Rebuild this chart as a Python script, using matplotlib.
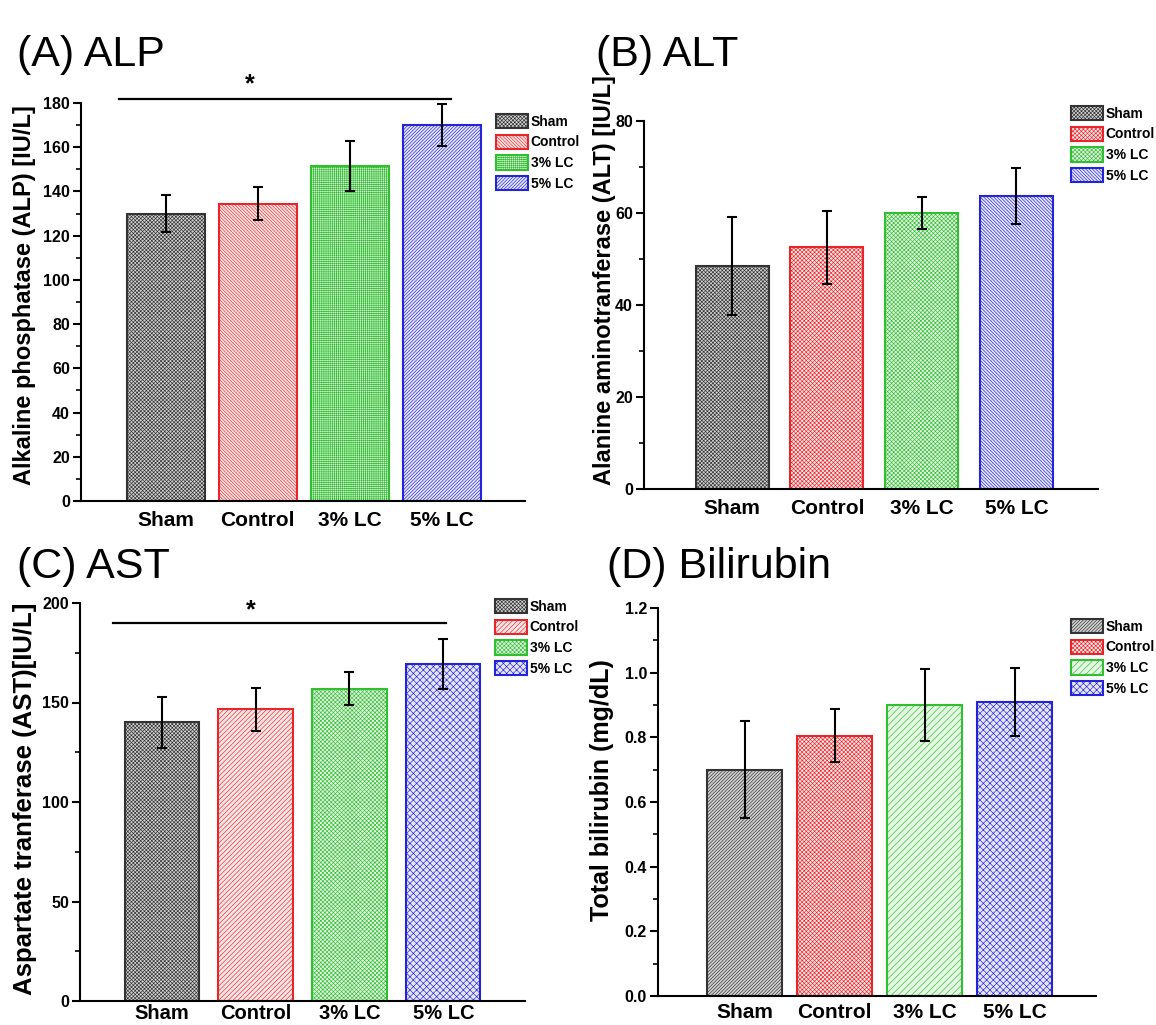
import numpy as np
import matplotlib
matplotlib.use("Agg")
import matplotlib.pyplot as plt
from matplotlib.ticker import MultipleLocator

plt.rcParams['font.family'] = ['Liberation Sans', 'DejaVu Sans']
plt.rcParams['hatch.linewidth'] = 0.45

groups = ["Sham", "Control", "3% LC", "5% LC"]
colors = ["#333333", "#e8262a", "#2fbf2f", "#2323d8"]
tints = ["#cfcfcf", "#fde6e6", "#e4f8e4", "#e4e4fa"]

# (A) ALP
alp_mean = [130, 134.5, 151.5, 170]
alp_err = [8.5, 7.5, 11.5, 9.5]
# (B) ALT
alt_mean = [48.5, 52.5, 60, 63.7]
alt_err = [10.7, 8, 3.5, 6]
# (C) AST
ast_mean = [140, 146.5, 157, 169.5]
ast_err = [13, 11, 8.5, 12.5]
# (D) Bilirubin
bil_mean = [0.70, 0.805, 0.90, 0.91]
bil_err = [0.15, 0.082, 0.11, 0.105]

W, H = 1156, 1025
fig = plt.figure(figsize=(W / 100, H / 100), dpi=100)


def px_axes(l, t, r, b):
    return fig.add_axes([l / W, 1 - b / H, (r - l) / W, (b - t) / H])


def panel(ax, means, errs, hatches, width, xlim, ylim, major, minor, fmt,
          ylabel, ysize, label_right, label_y, leg_xy, xpad=7, xsize=15):
    x = np.arange(len(groups))
    for i in range(len(groups)):
        ax.bar(x[i], means[i], width=width, facecolor=tints[i], edgecolor=colors[i],
               hatch=hatches[i], linewidth=1.5, label=groups[i], zorder=2)
    ax.errorbar(x, means, yerr=errs, fmt="none", ecolor="black", elinewidth=1.5,
                capsize=3.5, capthick=1.5, zorder=3)
    ax.set_xlim(*xlim)
    ax.set_ylim(*ylim)
    ax.yaxis.set_major_locator(MultipleLocator(major))
    ax.yaxis.set_minor_locator(MultipleLocator(minor))
    ax.yaxis.set_major_formatter(fmt)
    ax.set_xticks(x)
    ax.set_xticklabels(groups, fontsize=xsize, fontweight="bold")
    ax.tick_params(axis="x", length=0, pad=xpad)
    ax.tick_params(axis="y", which="major", length=6, width=1.5, labelsize=11.5, pad=2)
    ax.tick_params(axis="y", which="minor", length=3.5, width=1.2)
    for lab in ax.get_yticklabels():
        lab.set_fontweight("bold")
    for s in ["top", "right"]:
        ax.spines[s].set_visible(False)
    for s in ["left", "bottom"]:
        ax.spines[s].set_linewidth(1.5)
    ax.set_ylabel(ylabel, fontsize=ysize, fontweight="bold")
    # right edge of the rotated label, given in figure pixels
    bb = ax.get_position()
    ax.yaxis.set_label_coords((label_right / W - bb.x0) / bb.width, label_y)
    ax.legend(loc="upper left", bbox_to_anchor=(leg_xy[0] / W, 1 - leg_xy[1] / H),
              bbox_transform=fig.transFigure, frameon=False, borderpad=0,
              borderaxespad=0, handlelength=2.3, handleheight=1.2,
              handletextpad=0.2, labelspacing=0.42,
              prop={"weight": "bold", "size": 10})


axA = px_axes(81, 103, 525, 501)
panel(axA, alp_mean, alp_err, ["x" * 9, "\\" * 10, "+" * 8, "/" * 10],
      0.85, (-0.92, 3.9), (0, 180), 20, 10, "{x:.0f}",
      "Alkaline phosphatase (ALP) [IU/L]", 17, 36, 0.518, (496, 114))
axA.plot([-0.51, 3.1], [182, 182], color="black", lw=1.6, clip_on=False)
axA.text(0.91, 183, "*", ha="center", va="bottom", fontsize=18, fontweight="bold")

axB = px_axes(644, 121, 1098, 489)
panel(axB, alt_mean, alt_err, ["x" * 9, "x" * 8, "x" * 8, "\\" * 10],
      0.77, (-0.93, 3.86), (0, 80), 20, 10, "{x:.0f}",
      "Alanine aminotranferase (ALT) [IU/L]", 17, 616, 0.568, (1071, 106))

axC = px_axes(80, 603, 525, 1001)
panel(axC, ast_mean, ast_err, ["x" * 9, "/" * 7, "x" * 8, "x" * 5],
      0.79, (-0.87, 3.87), (0, 200), 50, 25, "{x:.0f}",
      "Aspartate tranferase (AST)[IU/L]", 18.5, 37, 0.508, (495, 599),
      xpad=2, xsize=14.5)
axC.plot([-0.52, 3.03], [190, 190], color="black", lw=1.6, clip_on=False)
axC.text(0.95, 190.5, "*", ha="center", va="bottom", fontsize=18, fontweight="bold")

axD = px_axes(658, 608, 1096, 996)
panel(axD, bil_mean, bil_err, ["/" * 10, "x" * 8, "/" * 5, "x" * 5],
      0.83, (-0.96, 3.9), (0, 1.2), 0.2, 0.1, "{x:.1f}",
      "Total bilirubin (mg/dL)", 18, 614, 0.531, (1071, 619), xpad=5)

fig.text(17 / W, 1 - 66 / H, "(A) ALP", fontsize=31, va="baseline")
fig.text(596 / W, 1 - 66 / H, "(B) ALT", fontsize=31, va="baseline")
fig.text(17 / W, 1 - 578 / H, "(C) AST", fontsize=31, va="baseline")
fig.text(607 / W, 1 - 578 / H, "(D) Bilirubin", fontsize=31, va="baseline")

fig.savefig("out.png", dpi=100)
